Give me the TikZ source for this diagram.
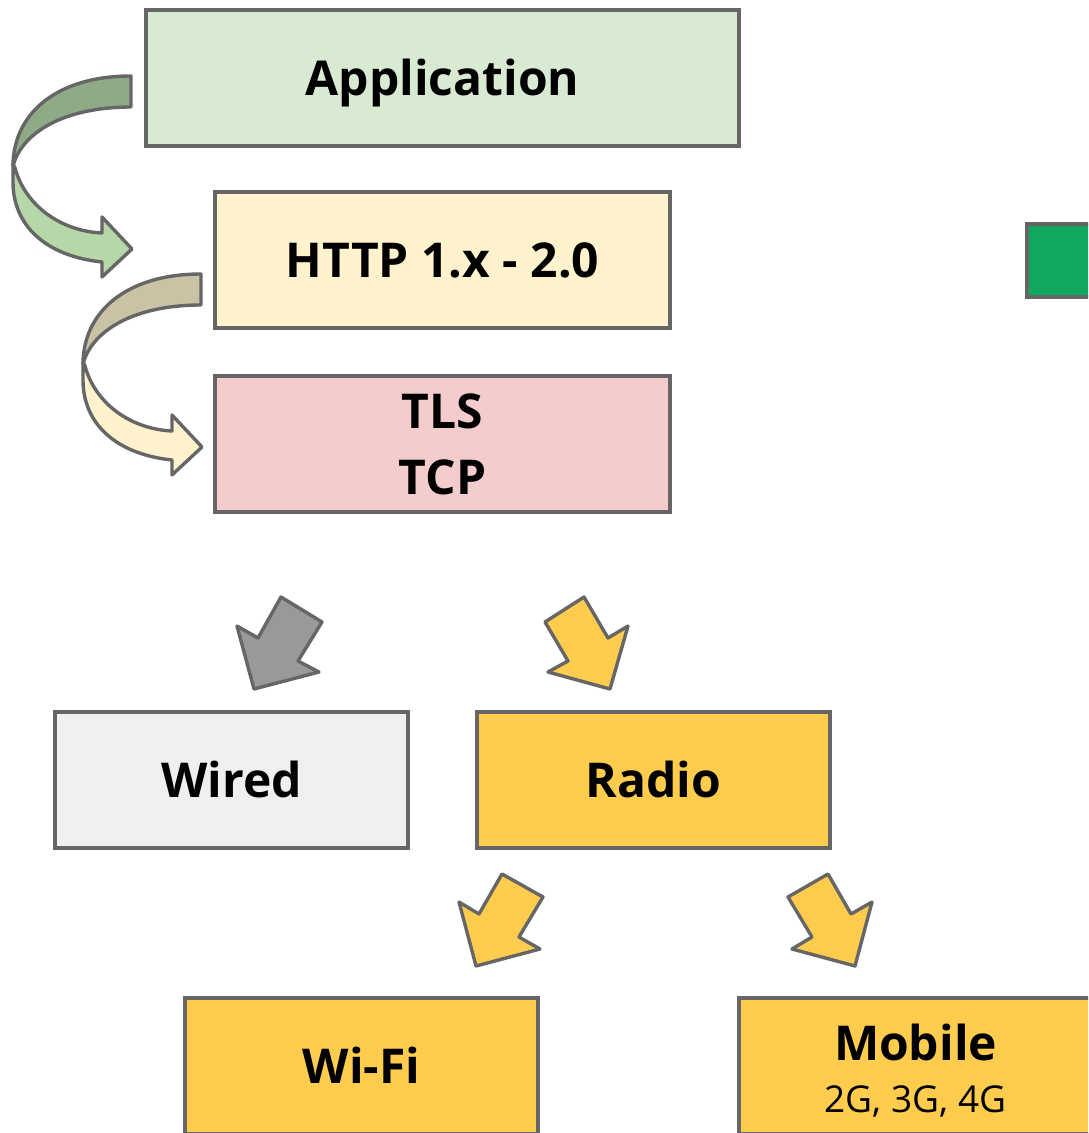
\documentclass[tikz,border=0pt]{standalone}
\usepackage{fontspec}
\setmainfont{Open Sans}
\definecolor{edge}{HTML}{666666}
\definecolor{appgreen}{HTML}{D9EAD3}
\definecolor{httpyellow}{HTML}{FFF2CC}
\definecolor{tlspink}{HTML}{F4CCCC}
\definecolor{wiredgray}{HTML}{EFEFEF}
\definecolor{radioyellow}{HTML}{FFCC4D}
\definecolor{brightgreen}{HTML}{10A860}
\definecolor{arrowgray}{HTML}{999999}
\definecolor{curlAdark}{HTML}{8EAA86}
\definecolor{curlAlight}{HTML}{B6D7A8}
\definecolor{curlBdark}{HTML}{C9C2A4}
\definecolor{curlBlight}{HTML}{FFF2CC}
\tikzset{
  box/.style={draw=edge, line width=3.4pt, inner sep=0pt, align=center,
    font=\bfseries\fontsize{48}{66}\selectfont, text height=34pt, text depth=0pt},
  label/.style={inner sep=0pt, anchor=base},
  shapeline/.style={draw=edge, line width=3.4pt, line join=round},
}
\newcommand\curlarrow[2]{%
  % lower (light) part with arrow head
  \path[shapeline, fill=#2] (15,168) .. controls (25,205) and (60,231) .. (102,233)
    -- (102,217) -- (132,249) -- (102,277) -- (102,262)
    .. controls (45,256) and (13,225) .. (13,182) -- (13,164) -- cycle;
  % upper (dark) part
  \path[shapeline, fill=#1] (131,76) .. controls (55,76) and (13,115) .. (13,166)
    .. controls (22,132) and (65,107) .. (131,107) -- cycle;
}
\begin{document}
\begin{tikzpicture}[x=1pt, y=-1pt]
  \useasboundingbox (0,0) rectangle (1088,1133);
  \clip (0,0) rectangle (1088,1133);
  % boxes
  \node[box, fill=appgreen, minimum width=593pt, minimum height=136pt] (app) at (442.5,78) {Application};
  \node[box, fill=httpyellow, minimum width=455pt, minimum height=136pt] (http) at (442.5,260) {HTTP 1.x - 2.0};
  \node[box, fill=tlspink, minimum width=455pt, minimum height=136pt, text height=100pt] (tls) at (442.5,444) {TLS\\TCP};
  \node[box, fill=brightgreen, minimum width=273pt, minimum height=73pt] (green) at (1163.5,260.5) {};
  \node[box, fill=wiredgray, minimum width=353pt, minimum height=136pt] (wired) at (231.5,780) {Wired};
  \node[box, fill=radioyellow, minimum width=353pt, minimum height=136pt] (radio) at (653.5,780) {Radio};
  \node[box, fill=radioyellow, minimum width=353pt, minimum height=136pt] (wifi) at (361.5,1066) {Wi-Fi};
  \node[box, fill=radioyellow, minimum width=353pt, minimum height=136pt] (mobile) at (915.5,1066) {};
  \node[label, font=\bfseries\fontsize{48}{56}\selectfont] (mobiletitle) at (915.5,1060) {Mobile};
  \node[label, font=\fontsize{37}{44}\selectfont] (mobilesub) at (915.5,1112) {2G, 3G, 4G};
  % curved arrows
  \curlarrow{curlAdark}{curlAlight}
  \begin{scope}[shift={(70,198)}]
    \curlarrow{curlBdark}{curlBlight}
  \end{scope}
  % block arrows
  \path[shapeline, fill=arrowgray] (281,597) -- (322,622) -- (298,661) -- (319,672) -- (254,689) -- (237,626) -- (258,638) -- cycle;
  \path[shapeline, fill=radioyellow] (584,597) -- (545,622) -- (568,661) -- (548,672) -- (610,689) -- (628,626) -- (608,638) -- cycle;
  \path[shapeline, fill=radioyellow] (502,874) -- (543,897) -- (519,937) -- (540,949) -- (476,966) -- (459,902) -- (479,914) -- cycle;
  \path[shapeline, fill=radioyellow] (828,874) -- (788,897) -- (812,937) -- (792,949) -- (855,966) -- (872,902) -- (851,914) -- cycle;
\end{tikzpicture}
\end{document}
